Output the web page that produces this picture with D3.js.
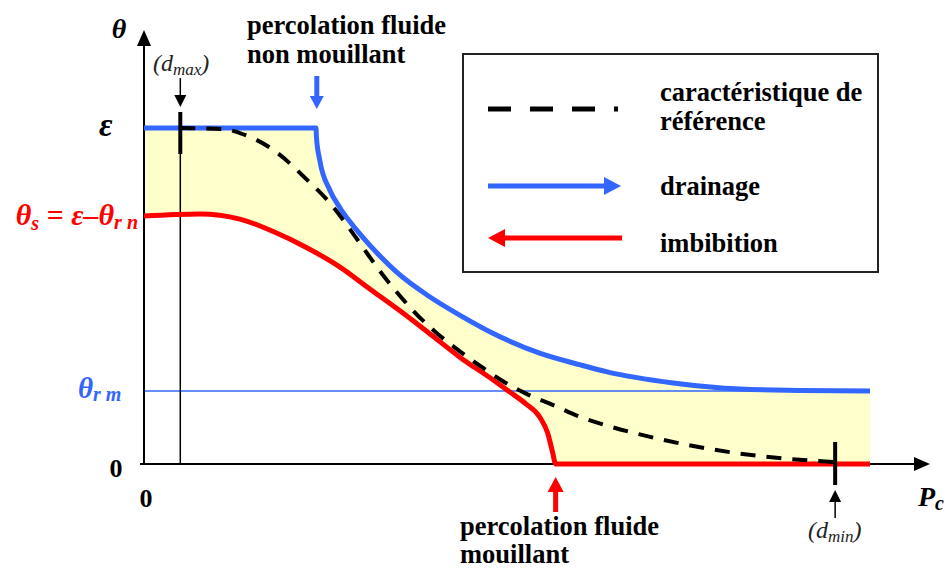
<!DOCTYPE html>
<html>
<head>
<meta charset="utf-8">
<script src="https://cdn.jsdelivr.net/npm/d3@7"></script>
<style>
  body { margin: 0; background: #fff; }
  svg text { font-family: "Liberation Serif", "DejaVu Serif", "Times New Roman", Times, serif; font-weight: bold; }
</style>
</head>
<body>
<script>
var width = 948,
    height = 570;

// theta normalise par epsilon, Pc en unites arbitraires (0..100)
var eps = 1.0,
    thetaS = 0.738,
    thetaRm = 0.217;

var dMax = 5,
    dMin = 95.2;

var percNonMouillant = 23.8,
    percMouillant = 56.7;

// drainage (bleu)
var pcDrainage    = [0, 23.7, 23.75, 24.2, 25.6, 27.0, 28.4, 30.2, 32.5, 34.8, 39.4, 43.9, 47.7, 54.5, 60.1, 63.8, 72.9, 82.1, 90.4, 100];
var thetaDrainage = [1, 1, 0.973, 0.905, 0.815, 0.762, 0.720, 0.673, 0.619, 0.571, 0.497, 0.438, 0.393, 0.330, 0.295, 0.274, 0.241, 0.223, 0.219, 0.217];

// imbibition (rouge)
var pcImbibition    = [0, 7.7, 13.2, 17.8, 22.5, 27.0, 31.1, 35.3, 39.4, 43.5, 48.1, 50.4, 52.6, 54.5, 55.6, 56.3, 56.7, 100];
var thetaImbibition = [0.738, 0.744, 0.729, 0.692, 0.643, 0.586, 0.521, 0.455, 0.387, 0.318, 0.250, 0.214, 0.179, 0.140, 0.092, 0.033, 0, 0];

// caracteristique de reference (tirets)
var pcReference    = [5, 10.9, 13.2, 17.8, 22.5, 25.6, 27.96, 30.2, 32.5, 34.8, 37.0, 40.3, 43.1, 46.3, 49.4, 52.75, 56.3, 60.1, 63.8, 68.3, 74.8, 82.1, 91.3, 95.2];
var thetaReference = [1, 0.997, 0.985, 0.935, 0.845, 0.777, 0.711, 0.643, 0.574, 0.512, 0.458, 0.390, 0.342, 0.292, 0.247, 0.208, 0.176, 0.140, 0.114, 0.088, 0.057, 0.031, 0.011, 0.006];

var legendLabels = [["caractéristique de", "référence"], ["drainage"], ["imbibition"]];

var blue = "#3366ff",
    red = "#ff0000";

var x = d3.scaleLinear().domain([0, 100]).range([144, 870]);
var y = d3.scaleLinear().domain([0, 1]).range([464, 128]);

function pts(xs, ys) { return xs.map(function(d, i) { return [d, ys[i]]; }); }

var drainage = pts(pcDrainage, thetaDrainage),
    imbibition = pts(pcImbibition, thetaImbibition),
    reference = pts(pcReference, thetaReference);

var svg = d3.select("body").append("svg")
    .attr("width", width)
    .attr("height", height)
    .attr("font-family", "Liberation Serif, DejaVu Serif, serif");

var line = d3.line()
    .x(function(d) { return x(d[0]); })
    .y(function(d) { return y(d[1]); })
    .curve(d3.curveMonotoneX);

var area = d3.area()
    .x(function(d) { return x(d[0]); })
    .y0(y(0))
    .y1(function(d) { return y(d[1]); })
    .curve(d3.curveMonotoneX);

// zone d'hysteresis : jaune sous le drainage, puis blanc sous l'imbibition
svg.append("path").attr("d", area(drainage)).attr("fill", "#ffffcc");
svg.append("path").attr("d", area(imbibition)).attr("fill", "#fff");

// niveau theta_r m
svg.append("line")
    .attr("x1", x(0)).attr("x2", x(100))
    .attr("y1", y(thetaRm)).attr("y2", y(thetaRm))
    .attr("stroke", blue).attr("stroke-width", 1.5);

// verticale d_max
svg.append("line")
    .attr("x1", x(dMax)).attr("x2", x(dMax))
    .attr("y1", 112).attr("y2", y(0))
    .attr("stroke", "#000").attr("stroke-width", 1.5);

function arrowHead(tx, ty, dir, len, half, col) {
  var p;
  if (dir == "up") p = [[tx, ty], [tx - half, ty + len], [tx + half, ty + len]];
  if (dir == "down") p = [[tx, ty], [tx - half, ty - len], [tx + half, ty - len]];
  if (dir == "right") p = [[tx, ty], [tx - len, ty - half], [tx - len, ty + half]];
  if (dir == "left") p = [[tx, ty], [tx + len, ty - half], [tx + len, ty + half]];
  svg.append("path").attr("d", "M" + p.join("L") + "Z").attr("fill", col);
}

// axes
svg.append("line")
    .attr("x1", x(0)).attr("x2", x(0))
    .attr("y1", y(0) + 1).attr("y2", 44)
    .attr("stroke", "#000").attr("stroke-width", 2);
arrowHead(x(0), 30, "up", 16, 7, "#000");

svg.append("line")
    .attr("x1", 140).attr("x2", 916)
    .attr("y1", y(0)).attr("y2", y(0))
    .attr("stroke", "#000").attr("stroke-width", 2);
arrowHead(930, y(0), "right", 16, 7, "#000");

// courbes
svg.append("path").attr("d", line(drainage))
    .attr("fill", "none").attr("stroke", blue).attr("stroke-width", 5);
svg.append("path").attr("d", line(imbibition))
    .attr("fill", "none").attr("stroke", red).attr("stroke-width", 5);
svg.append("path").attr("d", line(reference))
    .attr("fill", "none").attr("stroke", "#000").attr("stroke-width", 4)
    .attr("stroke-dasharray", "15,11");

// reperes d_max et d_min
svg.append("line")
    .attr("x1", x(dMax)).attr("x2", x(dMax)).attr("y1", 112).attr("y2", 154)
    .attr("stroke", "#000").attr("stroke-width", 4);
svg.append("line")
    .attr("x1", x(dMin)).attr("x2", x(dMin)).attr("y1", 442).attr("y2", 485)
    .attr("stroke", "#000").attr("stroke-width", 4);

svg.append("line")
    .attr("x1", x(dMax)).attr("x2", x(dMax)).attr("y1", 78).attr("y2", 97)
    .attr("stroke", "#000").attr("stroke-width", 1.5);
arrowHead(x(dMax), 107, "down", 12, 6, "#000");

svg.append("line")
    .attr("x1", x(dMin)).attr("x2", x(dMin)).attr("y1", 500).attr("y2", 518)
    .attr("stroke", "#000").attr("stroke-width", 1.5);
arrowHead(x(dMin), 490, "up", 12, 6, "#000");

// fleches de percolation
svg.append("line")
    .attr("x1", x(percNonMouillant)).attr("x2", x(percNonMouillant)).attr("y1", 76).attr("y2", 97)
    .attr("stroke", blue).attr("stroke-width", 5);
arrowHead(x(percNonMouillant), 109, "down", 13, 7, blue);

svg.append("line")
    .attr("x1", x(percMouillant)).attr("x2", x(percMouillant)).attr("y1", 491).attr("y2", 512)
    .attr("stroke", red).attr("stroke-width", 5);
arrowHead(x(percMouillant), 477, "up", 15, 8, red);

// textes
function label(tx, ty, parts, opts) {
  var t = svg.append("text")
      .attr("x", tx).attr("y", ty)
      .attr("font-size", opts.size)
      .attr("fill", opts.color || "#000")
      .attr("text-anchor", opts.anchor || "start")
      .style("font-style", opts.italic ? "italic" : "normal")
      .style("font-weight", opts.weight || "bold");
  var shift = 0;
  parts.forEach(function(p) {
    var s = t.append("tspan").text(p.t);
    var target = p.sub ? (p.down || 5) : 0;
    if (target != shift) { s.attr("dy", target - shift); shift = target; }
    if (p.sub) s.attr("font-size", p.size || opts.size * 0.68);
  });
  return t;
}

label(119, 38, [{t: "θ"}], {size: 28, italic: true, anchor: "middle"});
label(99, y(eps) + 8, [{t: "ε"}], {size: 33, italic: true});
label(138, y(thetaS) + 9, [{t: "θ"}, {t: "s", sub: true, down: 5, size: 20}, {t: " = ε–θ"}, {t: "r n", sub: true, down: 4, size: 20}],
      {size: 30, italic: true, color: red, anchor: "end"});
label(78, y(thetaRm) + 7, [{t: "θ"}, {t: "r m", sub: true, down: 3, size: 20}],
      {size: 29, italic: true, color: blue});
label(116, y(0) + 13, [{t: "0"}], {size: 26, anchor: "middle"});
label(146, y(0) + 43, [{t: "0"}], {size: 26, anchor: "middle"});
label(918, 506, [{t: "P"}, {t: "c", sub: true, down: 4, size: 20}], {size: 28, italic: true});

label(153, 71, [{t: "(d"}, {t: "max", sub: true, down: 4, size: 17}, {t: ")"}],
      {size: 24, italic: true, weight: "normal", color: "#222"});
label(808, 538, [{t: "(d"}, {t: "min", sub: true, down: 4, size: 17}, {t: ")"}],
      {size: 24, italic: true, weight: "normal", color: "#222"});

label(247, 34, [{t: "percolation fluide"}], {size: 26.5});
label(247, 63, [{t: "non mouillant"}], {size: 26.5});
label(460, 535, [{t: "percolation fluide"}], {size: 26.5});
label(460, 563, [{t: "mouillant"}], {size: 26.5});

// legende
var legend = svg.append("g").attr("class", "legend");
legend.append("rect")
    .attr("x", 463).attr("y", 54).attr("width", 415).attr("height", 218)
    .attr("fill", "none").attr("stroke", "#222").attr("stroke-width", 2);

legend.append("line")
    .attr("x1", 488).attr("x2", 618).attr("y1", 109).attr("y2", 109)
    .attr("stroke", "#000").attr("stroke-width", 5).attr("stroke-dasharray", "23,19");

legend.append("line")
    .attr("x1", 488).attr("x2", 606).attr("y1", 186).attr("y2", 186)
    .attr("stroke", blue).attr("stroke-width", 5);
arrowHead(621, 186, "right", 17, 9, blue);

legend.append("line")
    .attr("x1", 503).attr("x2", 622).attr("y1", 238).attr("y2", 238)
    .attr("stroke", red).attr("stroke-width", 5);
arrowHead(488, 238, "left", 17, 9, red);

var legendY = [101, 195, 252];
legendLabels.forEach(function(lines, i) {
  lines.forEach(function(s, j) {
    label(660, legendY[i] + j * 29, [{t: s}], {size: 26.5});
  });
});
</script>
</body>
</html>
